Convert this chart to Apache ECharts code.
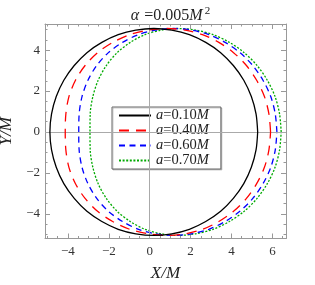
<!DOCTYPE html>
<html><head><meta charset="utf-8">
<script src="https://cdn.jsdelivr.net/npm/echarts@6/dist/echarts.min.js"></script>
<style>html,body{margin:0;padding:0;background:#fff}#c{width:315px;height:285px}</style>
</head><body><div id="c"></div>
<script>
const seriesNames = ['a=0.10M', 'a=0.40M', 'a=0.60M', 'a=0.70M'];
const xTicks = [-4, -2, 0, 2, 4, 6];
const yTicks = [-4, -2, 0, 2, 4];
const xMinor = [-5, -4.5, -3.5, -3, -2.5, -1.5, -1, -0.5, 0.5, 1, 1.5, 2.5, 3, 3.5, 4.5, 5, 5.5, 6.5];
const yMinor = [-5, -4.5, -3.5, -3, -2.5, -1.5, -1, -0.5, 0.5, 1, 1.5, 2.5, 3, 3.5, 4.5, 5];

const curveA010 = [[5.28,0],[5.20,0.88],[4.97,1.73],[4.60,2.53],[4.09,3.25],[3.47,3.88],[2.74,4.38],[1.94,4.76],[1.08,4.98],[0.20,5.06],
  [-0.68,4.98],[-1.54,4.76],[-2.34,4.38],[-3.07,3.88],[-3.69,3.25],[-4.20,2.53],[-4.57,1.73],[-4.80,0.88],[-4.88,0],
  [-4.80,-0.88],[-4.57,-1.73],[-4.20,-2.53],[-3.69,-3.25],[-3.07,-3.88],[-2.34,-4.38],[-1.54,-4.76],[-0.68,-4.98],[0.20,-5.06],
  [1.08,-4.98],[1.94,-4.76],[2.74,-4.38],[3.47,-3.88],[4.09,-3.25],[4.60,-2.53],[4.97,-1.73],[5.20,-0.88],[5.28,0]];
const curveA040 = [[5.91,0],[5.83,0.88],[5.61,1.73],[5.23,2.53],[4.73,3.25],[4.10,3.88],[3.38,4.38],[2.58,4.76],[1.73,4.98],[0.85,5.06],
  [-0.08,4.98],[-0.98,4.76],[-1.81,4.38],[-2.55,3.88],[-3.16,3.25],[-3.63,2.53],[-3.95,1.73],[-4.10,0.88],[-4.13,0],
  [-4.10,-0.88],[-3.95,-1.73],[-3.63,-2.53],[-3.16,-3.25],[-2.55,-3.88],[-1.81,-4.38],[-0.98,-4.76],[-0.08,-4.98],[0.85,-5.06],
  [1.73,-4.98],[2.58,-4.76],[3.38,-4.38],[4.10,-3.88],[4.73,-3.25],[5.23,-2.53],[5.61,-1.73],[5.83,-0.88],[5.91,0]];
const curveA060 = [[6.22,0],[6.14,0.88],[5.92,1.73],[5.54,2.53],[5.04,3.25],[4.41,3.88],[3.69,4.38],[2.89,4.76],[2.04,4.98],[1.16,5.06],
  [0.29,4.98],[-0.55,4.76],[-1.33,4.38],[-2.02,3.88],[-2.59,3.25],[-3.02,2.53],[-3.31,1.73],[-3.45,0.88],[-3.47,0],
  [-3.45,-0.88],[-3.31,-1.73],[-3.02,-2.53],[-2.59,-3.25],[-2.02,-3.88],[-1.33,-4.38],[-0.55,-4.76],[0.29,-4.98],[1.16,-5.06],
  [2.04,-4.98],[2.89,-4.76],[3.69,-4.38],[4.41,-3.88],[5.04,-3.25],[5.54,-2.53],[5.92,-1.73],[6.14,-0.88],[6.22,0]];
const curveA070 = [[6.43,0],[6.35,0.88],[6.13,1.73],[5.75,2.53],[5.25,3.25],[4.62,3.88],[3.90,4.38],[3.10,4.76],[2.25,4.98],[1.37,5.06],
  [0.56,4.98],[-0.23,4.76],[-0.95,4.38],[-1.59,3.88],[-2.12,3.25],[-2.52,2.53],[-2.78,1.73],[-2.91,0.88],[-2.92,0],
  [-2.91,-0.88],[-2.78,-1.73],[-2.52,-2.53],[-2.12,-3.25],[-1.59,-3.88],[-0.95,-4.38],[-0.23,-4.76],[0.56,-4.98],[1.37,-5.06],
  [2.25,-4.98],[3.10,-4.76],[3.90,-4.38],[4.62,-3.88],[5.25,-3.25],[5.75,-2.53],[6.13,-1.73],[6.35,-0.88],[6.43,0]];

const curves = [curveA010, curveA040, curveA060, curveA070];
const colors = ['#000000', '#ff0000', '#0000ff', '#00aa00'];
const dashes = ['solid', [10, 7], [6, 4.5], [2, 1.6]];

const XMIN = -5.12, XMAX = 6.665, YMIN = -5.21, YMAX = 5.28;
const SERIF = 'Liberation Serif';
const FRAME = '#999';
const fmt = v => (v < 0 ? '\u2212' + Math.abs(v) : String(v));

function xAx(pos, major, labels) {
  return {
    type: 'value', position: pos, min: XMIN, max: XMAX,
    axisLine: { show: major, onZero: false, lineStyle: { color: FRAME, width: 1 } },
    axisTick: { show: true, inside: true, length: major ? 5 : 2.5, customValues: major ? xTicks : xMinor, lineStyle: { color: FRAME } },
    axisLabel: labels ? { show: true, customValues: xTicks, formatter: fmt, margin: 7, fontFamily: SERIF, fontSize: 13, color: '#333' } : { show: false },
    splitLine: { show: false },
    name: labels ? 'X/M' : '', nameLocation: 'middle', nameGap: 26.5,
    nameTextStyle: { fontFamily: SERIF, fontStyle: 'italic', fontSize: 17, color: '#222' }
  };
}
function yAx(pos, major, labels) {
  return {
    type: 'value', position: pos, min: YMIN, max: YMAX,
    axisLine: { show: major, onZero: false, lineStyle: { color: FRAME, width: 1 } },
    axisTick: { show: true, inside: true, length: major ? 5 : 2.5, customValues: major ? yTicks : yMinor, lineStyle: { color: FRAME } },
    axisLabel: labels ? { show: true, customValues: yTicks, formatter: fmt, margin: 5, fontFamily: SERIF, fontSize: 13, color: '#333' } : { show: false },
    splitLine: { show: false },
    name: labels ? 'Y/M' : '', nameLocation: 'middle', nameGap: 24, nameRotate: 90,
    nameTextStyle: { fontFamily: SERIF, fontStyle: 'italic', fontSize: 17, color: '#222' }
  };
}

const chart = echarts.init(document.getElementById('c'), null, { renderer: 'canvas' });
const series = curves.map((c, i) => ({
  name: seriesNames[i], type: 'line', data: c, xAxisIndex: 0, yAxisIndex: 0,
  symbol: 'none', smooth: 0.3, z: 3 + (3 - i),
  lineStyle: { color: colors[i], width: 1.3, type: dashes[i] },
  itemStyle: { color: colors[i] }
}));
series[0].markLine = {
  silent: true, symbol: 'none', label: { show: false }, animation: false,
  lineStyle: { color: '#aaa', width: 1, type: 'solid' },
  data: [{ xAxis: 0 }, { yAxis: 0 }]
};

const T = { fontFamily: SERIF, fontSize: 16, fontWeight: 'normal', color: '#222', lineHeight: 20 };
chart.setOption({
  animation: false,
  backgroundColor: '#fff',
  title: {
    text: '{g|\u03b1} {r|=0.005}{i|M}{s|2}', left: 165.5, top: 1, textAlign: 'center',
    textStyle: {
      fontWeight: 'normal',
      rich: {
        g: Object.assign({}, T, { fontStyle: 'italic' }),
        r: Object.assign({}, T),
        i: Object.assign({}, T, { fontStyle: 'italic' }),
        s: Object.assign({}, T, { fontSize: 11, verticalAlign: 'top', padding: [0, 0, 0, 2] })
      }
    }
  },
  grid: { left: 45, right: 29, top: 24, bottom: 46.5, containLabel: false, outerBoundsMode: 'none' },
  xAxis: [xAx('bottom', true, true), xAx('bottom', false, false), xAx('top', true, false), xAx('top', false, false)],
  yAxis: [yAx('left', true, true), yAx('left', false, false), yAx('right', true, false), yAx('right', false, false)],
  legend: {
    data: seriesNames, orient: 'vertical', left: 112, top: 107,
    itemWidth: 32, itemHeight: 14, itemGap: 0,
    padding: [1, 12, 1, 6],
    backgroundColor: '#fff', borderColor: '#666', borderWidth: 1,
    shadowColor: 'rgba(0,0,0,0.2)', shadowOffsetX: 1, shadowOffsetY: 1, shadowBlur: 0,
    itemStyle: { opacity: 0 },
    selectedMode: false,
    formatter: n => '{i|a}{r|' + n.slice(1, -1) + '}{i|M}',
    textStyle: {
      rich: {
        i: { fontFamily: SERIF, fontStyle: 'italic', fontSize: 14.5, color: '#222', lineHeight: 15 },
        r: { fontFamily: SERIF, fontSize: 14.5, color: '#222', lineHeight: 15 }
      }
    }
  },
  series: series
});
</script></body></html>
